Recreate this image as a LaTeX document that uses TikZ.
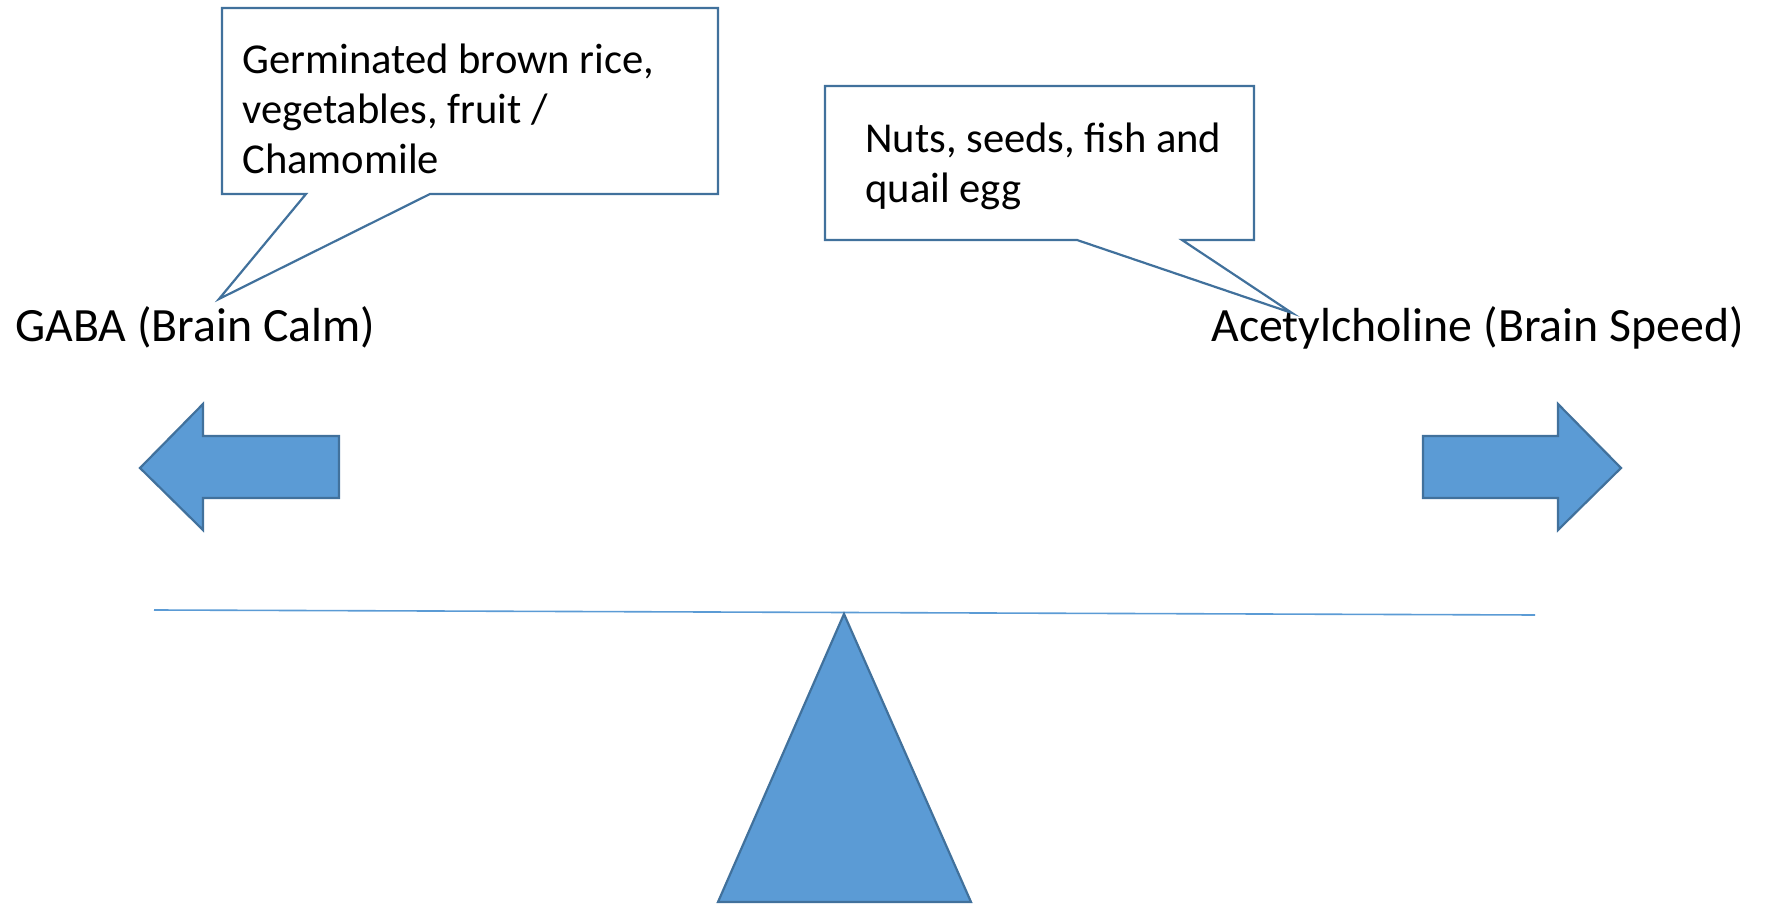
\documentclass[tikz,border=0pt]{standalone}
\usepackage{fontspec}
\setmainfont{Carlito}
\definecolor{officeblue}{HTML}{5B9BD5}
\definecolor{officeedge}{HTML}{41719C}
\tikzset{
  bubble/.style={draw=officeedge, line width=1.1pt, fill=white, line join=miter},
  bubbletext/.style={anchor=north west, inner sep=0pt, align=left,
    font=\fontsize{21.3}{25}\selectfont},
  label/.style={anchor=base west, inner sep=0pt, font=\fontsize{23.9}{28}\selectfont},
  bigarrow/.style={draw=officeedge, line width=1.1pt, fill=officeblue, line join=miter}
}
\begin{document}
\begin{tikzpicture}[x=0.5pt,y=-0.5pt]
\useasboundingbox (0,0) rectangle (1768,908);

% labels on the two sides
\node[label] (gaba) at (15,342) {GABA (Brain Calm)};
\node[label] (ach) at (1211,342) {Acetylcholine (Brain Speed)};

% where the callout tails point
\coordinate (gabatip) at (219,299);
\coordinate (achtip) at (1292,313);

% callouts
\draw[bubble] (222,8) -- (718,8) -- (718,194) -- (430,194) -- (gabatip)
  -- (306,194) -- (222,194) -- cycle;
\node[bubbletext] (gabafood) at (242,43.5) {Germinated brown rice,\\vegetables, fruit /\\Chamomile};

\draw[bubble] (825,86) -- (1254,86) -- (1254,240) -- (1182,240) -- (achtip)
  -- (1077,240) -- (825,240) -- cycle;
\node[bubbletext] (achfood) at (865,123) {Nuts, seeds, fish and\\quail egg};

% arrows
\draw[bigarrow] (140,468) -- (203,404) -- (203,436) -- (339,436) -- (339,498)
  -- (203,498) -- (203,530) -- cycle;
\draw[bigarrow] (1621,468) -- (1558,404) -- (1558,436) -- (1423,436) -- (1423,498)
  -- (1558,498) -- (1558,530) -- cycle;

% seesaw
\draw[officeblue, line width=0.8pt] (154,610) -- (1535,615);
\draw[bigarrow] (844,614) -- (718,902) -- (971,902) -- cycle;
\end{tikzpicture}
\end{document}
